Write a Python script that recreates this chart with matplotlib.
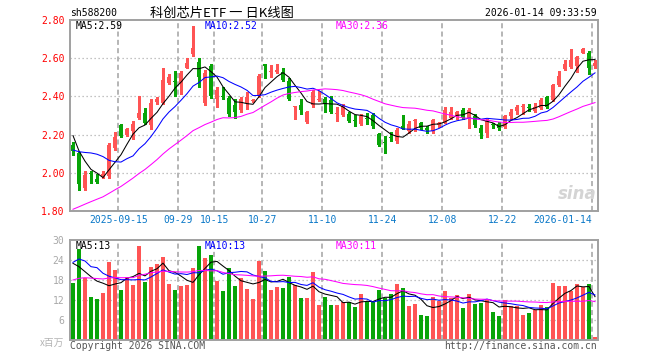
import matplotlib
matplotlib.use("Agg")
import matplotlib.pyplot as plt
import numpy as np
import pandas as pd

# daily K-line, 2025-09-03 .. 2026-01-14 (88 trading days)
opens = [2.144, 2.105, 1.918, 1.998, 1.965, 1.979, 1.982, 2.132, 2.249, 2.196,
         2.219, 2.289, 2.311, 2.249, 2.372, 2.368, 2.470, 2.477, 2.465, 2.549,
         2.623, 2.580, 2.363, 2.560, 2.389, 2.402, 2.391, 2.354, 2.330, 2.365,
         2.376, 2.400, 2.570, 2.528, 2.526, 2.530, 2.482, 2.343, 2.354, 2.265,
         2.353, 2.379, 2.389, 2.382, 2.308, 2.302, 2.307, 2.274, 2.254, 2.284,
         2.302, 2.202, 2.160, 2.186, 2.167, 2.246, 2.219, 2.272, 2.260, 2.230,
         2.219, 2.249, 2.263, 2.289, 2.295, 2.330, 2.284, 2.295, 2.237, 2.207,
         2.250, 2.254, 2.242, 2.295, 2.325, 2.346, 2.339, 2.325, 2.337, 2.395,
         2.381, 2.460, 2.544, 2.553, 2.558, 2.628, 2.628, 2.558]
highs = [2.161, 2.110, 2.009, 2.009, 1.996, 2.009, 2.154, 2.211, 2.254, 2.237,
         2.272, 2.404, 2.337, 2.386, 2.395, 2.547, 2.518, 2.535, 2.535, 2.600,
         2.768, 2.600, 2.540, 2.570, 2.447, 2.447, 2.404, 2.386, 2.398, 2.425,
         2.389, 2.518, 2.572, 2.565, 2.570, 2.547, 2.495, 2.351, 2.386, 2.325,
         2.435, 2.430, 2.395, 2.404, 2.347, 2.360, 2.319, 2.302, 2.307, 2.312,
         2.312, 2.209, 2.193, 2.211, 2.237, 2.302, 2.272, 2.284, 2.267, 2.246,
         2.284, 2.267, 2.347, 2.342, 2.325, 2.337, 2.337, 2.307, 2.249, 2.281,
         2.263, 2.267, 2.302, 2.333, 2.354, 2.360, 2.360, 2.368, 2.393, 2.404,
         2.465, 2.535, 2.593, 2.649, 2.611, 2.653, 2.640, 2.588]
lows = [2.091, 1.909, 1.912, 1.944, 1.947, 1.974, 1.974, 2.119, 2.189, 2.193,
        2.175, 2.281, 2.254, 2.228, 2.360, 2.360, 2.465, 2.404, 2.412, 2.547,
        2.614, 2.451, 2.355, 2.390, 2.346, 2.386, 2.295, 2.289, 2.316, 2.333,
        2.372, 2.395, 2.495, 2.500, 2.521, 2.482, 2.381, 2.281, 2.307, 2.262,
        2.347, 2.375, 2.316, 2.312, 2.272, 2.298, 2.267, 2.246, 2.249, 2.254,
        2.232, 2.140, 2.102, 2.165, 2.158, 2.228, 2.210, 2.219, 2.228, 2.207,
        2.210, 2.242, 2.260, 2.284, 2.281, 2.284, 2.237, 2.242, 2.184, 2.189,
        2.232, 2.225, 2.237, 2.284, 2.307, 2.307, 2.325, 2.316, 2.333, 2.337,
        2.377, 2.456, 2.540, 2.547, 2.526, 2.625, 2.518, 2.547]
closes = [2.114, 1.940, 1.991, 1.994, 1.953, 1.996, 2.144, 2.188, 2.193, 2.228,
          2.258, 2.311, 2.260, 2.368, 2.386, 2.486, 2.504, 2.473, 2.523, 2.574,
          2.654, 2.500, 2.520, 2.400, 2.433, 2.398, 2.307, 2.319, 2.389, 2.398,
          2.380, 2.507, 2.558, 2.532, 2.540, 2.486, 2.386, 2.347, 2.330, 2.317,
          2.423, 2.383, 2.360, 2.319, 2.312, 2.351, 2.272, 2.270, 2.298, 2.280,
          2.246, 2.144, 2.156, 2.182, 2.223, 2.228, 2.254, 2.276, 2.237, 2.226,
          2.277, 2.263, 2.330, 2.319, 2.316, 2.289, 2.330, 2.249, 2.207, 2.272,
          2.248, 2.237, 2.295, 2.319, 2.347, 2.349, 2.337, 2.347, 2.382, 2.347,
          2.460, 2.509, 2.570, 2.588, 2.605, 2.649, 2.547, 2.575]
# volume, millions of shares
volumes = [17.2, 27.3, 18.5, 13.0, 12.3, 14.1, 23.5, 21.1, 15.0, 19.0,
           16.5, 28.3, 17.4, 21.9, 22.8, 24.9, 16.9, 15.0, 16.3, 16.5,
           21.7, 28.3, 24.6, 25.6, 17.7, 14.7, 21.6, 16.2, 18.7, 15.3,
           12.3, 23.8, 20.7, 15.0, 16.0, 15.6, 18.9, 16.5, 12.5, 12.5,
           20.4, 10.5, 13.0, 10.5, 10.5, 11.5, 11.3, 10.0, 13.8, 11.3,
           11.3, 15.0, 12.7, 13.7, 16.8, 15.7, 10.2, 10.8, 7.5, 7.2,
           13.0, 11.7, 14.7, 12.5, 13.5, 9.7, 13.8, 10.8, 11.1, 11.9,
           8.4, 7.3, 11.9, 10.3, 10.3, 7.6, 8.2, 9.0, 10.5, 9.9,
           17.2, 16.2, 16.2, 14.7, 16.8, 15.8, 16.8, 0.9]
# the 29 sessions before the window, only used to seed the moving averages
prior_closes = [1.55, 1.58, 1.60, 1.57, 1.62, 1.60, 1.63, 1.66,
                1.58, 1.60, 1.59, 1.62, 1.61, 1.60, 1.60,
                1.72, 1.78, 1.83, 1.86, 1.88,
                2.03, 2.03, 2.02, 2.02, 2.12, 2.34, 2.26, 2.21, 2.05]
prior_volumes = [12, 13, 17, 16, 18, 15, 17, 16, 19, 16, 8, 7, 8,
                 17, 18, 18, 19, 18, 17, 18,
                 17.3, 24.5, 30, 15.3, 30.9, 32.3, 26, 20.5, 19]

date_pos = [8, 18, 24, 32, 42, 52, 62, 72, 87]
date_labels = ["2025-09-15", "09-29", "10-15", "10-27", "11-10",
               "11-24", "12-08", "12-22", "2026-01-14"]
price_ticks = [1.80, 2.00, 2.20, 2.40, 2.60, 2.80]
vol_ticks = [6, 12, 18, 24, 30]

RED = "#ff5454"
GREEN = "#08a408"
GRID = "#b0b0b0"
FRAME = "#a0a0a0"
MA_COLORS = {5: "black", 10: "#0000ff", 30: "#ff00ff"}
MONO = "DejaVu Sans Mono"
W, H = 660, 360


def trunc2(v):
    return int(v * 100) / 100


def moving_averages(prior, values):
    s = pd.Series(list(prior) + list(values), dtype=float)
    n = len(values)
    return {w: s.rolling(w).mean().to_numpy()[-n:] for w in (5, 10, 30)}


def style_axes(ax):
    for sp in ax.spines.values():
        sp.set_color(FRAME)
        sp.set_linewidth(1.4)
    for p in date_pos:
        ax.axvline(p - 0.45, color=GRID, lw=1.3, dashes=(2.8, 1.8), zorder=0)
    ax.set_xticks([])
    ax.set_xlim(-0.5, len(closes) - 0.5)
    ax.tick_params(axis="y", length=0, pad=4, labelsize=7)


def fig_xy(px, py):
    return px / W, 1 - py / H


o = np.array(opens)
h = np.array(highs)
l = np.array(lows)
c = np.array(closes)
v = np.array(volumes)
xs = np.arange(len(c))
cols = [RED if cc >= oo else GREEN for oo, cc in zip(o, c)]

pma = moving_averages(prior_closes, closes)
vma = moving_averages(prior_volumes, volumes)

fig = plt.figure(figsize=(W / 100, H / 100), dpi=100)
fig.patch.set_facecolor("white")

# price panel
ax = fig.add_axes([70 / W, 1 - 211 / H, 528 / W, 191 / H])
style_axes(ax)
ax.set_ylim(1.80, 2.80)
ax.set_yticks(price_ticks)
ax.set_yticklabels([f"{t:.2f}" for t in price_ticks], color="red", family=MONO)
for t in price_ticks[1:-1]:
    ax.axhline(t, color=GRID, lw=0.9, dashes=(1, 2.2), zorder=0)

ax.vlines(xs, l, h, colors=cols, lw=0.75, zorder=2, antialiased=False)
body_lo = np.minimum(o, c)
body_h = np.maximum(np.abs(c - o), 0.006)
ax.bar(xs, body_h, bottom=body_lo, width=0.82, color=cols, lw=0, zorder=3,
       antialiased=False)
for w, col in MA_COLORS.items():
    ax.plot(xs, pma[w], color=col, lw=0.75, zorder=4)

ax.text(0.5, 2.755, f"MA5:{trunc2(pma[5][-1]):.2f}", color="black", family=MONO, fontsize=7)
ax.text(22, 2.755, f"MA10:{trunc2(pma[10][-1]):.2f}", color="#0000ff", family=MONO, fontsize=7)
ax.text(43.8, 2.755, f"MA30:{trunc2(pma[30][-1]):.2f}", color="#ff00ff", family=MONO, fontsize=7)
ax.text(87.3, 1.84, "sina", color="#d4d4d4", fontsize=12, fontweight="bold",
        style="italic", ha="right", va="bottom", zorder=1)

for p, lab in zip(date_pos, date_labels):
    ha = "right" if p == date_pos[-1] else "center"
    x_fig = (70 + (p - 0.45 + 0.5) * 6) / W
    fig.text(x_fig, 1 - 220 / H, lab, color="#0a78c8", family=MONO, fontsize=7,
             ha=ha, va="center")

# volume panel
vax = fig.add_axes([70 / W, 1 - 340 / H, 528 / W, 100 / H])
style_axes(vax)
vax.set_ylim(0, 30)
vax.set_yticks(vol_ticks)
vax.set_yticklabels([str(t) for t in vol_ticks], color="#a8a8a8", family=MONO)
for t in vol_ticks[:-1]:
    vax.axhline(t, color=GRID, lw=0.9, dashes=(1, 2.2), zorder=0)
vax.bar(xs, v, width=0.82, color=cols, lw=0, zorder=2, antialiased=False)
for w, col in MA_COLORS.items():
    vax.plot(xs, vma[w], color=col, lw=0.75, zorder=4)
vax.text(0.5, 27.2, f"MA5:{int(vma[5][-1])}", color="black", family=MONO, fontsize=7)
vax.text(22, 27.2, f"MA10:{int(vma[10][-1])}", color="#0000ff", family=MONO, fontsize=7)
vax.text(43.8, 27.2, f"MA30:{int(vma[30][-1])}", color="#ff00ff", family=MONO, fontsize=7)

# header and footer
fig.text(*fig_xy(70, 13), "sh588200", family=MONO, fontsize=7, va="center")
fig.text(*fig_xy(150, 13), "科创芯片ETF 一 日K线图",
         family=["Noto Sans CJK SC", "DejaVu Sans"], fontsize=9.5, va="center")
fig.text(*fig_xy(597, 13), "2026-01-14 09:33:59", family=MONO, fontsize=7,
         ha="right", va="center")
fig.text(*fig_xy(64, 343), "x百万", family=["Noto Sans CJK SC", "DejaVu Sans"],
         color="#b4b4b4", fontsize=7, ha="right", va="center")
fig.text(*fig_xy(70, 346), "Copyright 2026 SINA.COM", family=MONO, fontsize=7,
         color="#555555", va="center")
fig.text(*fig_xy(597, 346), "http://finance.sina.com.cn", family=MONO, fontsize=7,
         color="#555555", ha="right", va="center")

fig.savefig("out.png", dpi=100)
